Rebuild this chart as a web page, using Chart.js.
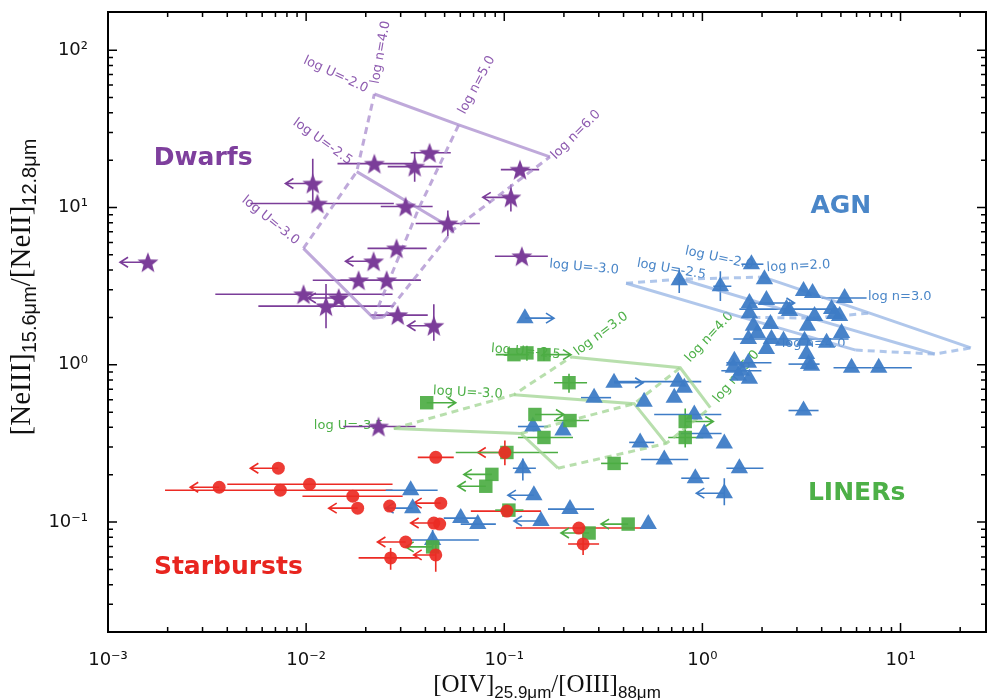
<!DOCTYPE html>
<html>
<head>
<meta charset="utf-8">
<script src="https://cdn.jsdelivr.net/npm/chart.js@4.4.1/dist/chart.umd.min.js"></script>
<style>
  html, body { margin: 0; padding: 0; background: #fff; overflow: hidden; }
  canvas { display: block; }
</style>
</head>
<body>
<canvas id="myChart" width="987" height="700"></canvas>
<script>
// rows: [x, y, xLo, xHi, yLo, yHi, arrowTip]  (arrowTip = limit arrow end on x)
const dwarfs = [
  [0.00159, 4.49, null, null, null, null, 0.00115],
  [0.0108, 14.2, null, null, 10.9, 20.4, 0.00786],
  [0.0114, 10.6, 0.00523, 0.0277, null, null, null],
  [0.0221, 19.0, 0.0144, 0.0349, null, null, null],
  [0.0353, 18.2, 0.0258, 0.0489, 14.6, 22.6, null],
  [0.0420, 22.3, 0.0337, 0.0537, null, null, null],
  [0.0318, 10.15, 0.0238, 0.0435, null, null, null],
  [0.0519, 7.92, 0.0357, 0.0753, 6.55, 9.57, null],
  [0.120, 17.4, 0.0961, 0.150, null, null, null],
  [0.108, 11.6, null, null, 9.43, 14.0, 0.0779],
  [0.1227, 4.90, 0.0897, 0.166, null, null, null],
  [0.0286, 5.50, 0.0204, 0.0406, null, null, null],
  [0.0219, 4.55, null, null, null, null, 0.0158],
  [0.0184, 3.45, 0.0108, 0.0379, null, null, null],
  [0.0255, 3.45, 0.0149, 0.0379, null, null, null],
  [0.0097, 2.81, 0.00348, 0.0273, null, null, null],
  [0.0146, 2.66, null, null, null, null, 0.0102],
  [0.0126, 2.36, 0.00574, 0.0277, 1.71, 3.26, null],
  [0.0290, 2.07, 0.0211, 0.0411, null, null, null],
  [0.0441, 1.77, null, null, 1.42, 2.43, 0.0325],
  [0.0232, 0.405, 0.0154, 0.0357, null, null, null]
];

const starbursts = [
  [0.00724, 0.220, null, null, null, null, 0.00523],
  [0.00364, 0.1665, null, null, null, null, 0.0026],
  [0.00741, 0.1594, 0.00194, 0.0273, null, null, null],
  [0.0104, 0.174, 0.0040, 0.0273, null, null, null],
  [0.0172, 0.146, 0.00958, 0.0307, null, null, null],
  [0.0182, 0.1226, null, null, null, null, 0.0130],
  [0.0264, 0.1263, null, null, null, null, null],
  [0.0478, 0.1319, null, null, null, null, 0.0349],
  [0.0451, 0.258, 0.0366, 0.0556, null, null, null],
  [0.0441, 0.0986, null, null, null, null, 0.0337],
  [0.0472, 0.0971, null, null, null, null, null],
  [0.0318, 0.0747, null, null, null, null, 0.0229],
  [0.0267, 0.0592, 0.0184, 0.0366, 0.0497, 0.0684, null],
  [0.0451, 0.0618, null, null, 0.0483, 0.0769, 0.0349],
  [0.1007, 0.277, null, null, 0.230, 0.330, 0.0735],
  [0.1031, 0.1174, 0.0678, 0.1532, null, null, null],
  [0.238, 0.0916, 0.1145, 0.491, null, null, null],
  [0.250, 0.0726, 0.210, 0.301, 0.0618, 0.0839, null]
];

const liners = [
  [0.0406, 0.574, null, null, null, null, 0.0569],
  [0.1119, 1.16, 0.0907, 0.133, null, null, null],
  [0.1301, 1.19, null, null, 1.06, 1.32, null],
  [0.1586, 1.16, null, null, 1.06, 1.28, 0.2172],
  [0.2122, 0.769, 0.1782, 0.2617, 0.665, 0.877, null],
  [0.1428, 0.483, null, null, null, null, 0.2002],
  [0.2147, 0.442, 0.1782, 0.2679, null, null, null],
  [0.1586, 0.345, 0.1172, 0.2223, null, null, null],
  [0.1031, 0.277, 0.0569, 0.1867, null, null, null],
  [0.0866, 0.201, null, null, null, null, 0.0625],
  [0.0807, 0.169, null, null, null, null, 0.0583],
  [0.3584, 0.236, 0.308, 0.422, null, null, null],
  [0.819, 0.436, null, null, 0.38, 0.527, 1.135],
  [0.819, 0.345, 0.672, 1.011, 0.298, 0.411, null],
  [0.1055, 0.1191, 0.090, 0.125, null, null, null],
  [0.0435, 0.0695, null, null, null, null, 0.0318],
  [0.268, 0.0852, null, null, null, null, 0.1933],
  [0.422, 0.0971, null, null, null, null, 0.308]
];

const agn = [
  [0.1271, 1.98, null, null, null, null, 0.1782],
  [0.0337, 0.1594, 0.0252, 0.0461, null, null, null],
  [0.0345, 0.1226, null, null, null, null, 0.0252],
  [0.0435, 0.0769, 0.0337, 0.0744, 0.0665, 0.089, null],
  [0.0603, 0.106, 0.0495, 0.0744, null, null, null],
  [0.0735, 0.0971, 0.0603, 0.0907, null, null, null],
  [0.1241, 0.220, 0.1105, 0.1444, 0.184, 0.254, null],
  [0.1411, 0.1482, null, null, null, null, 0.1043],
  [0.2147, 0.1209, 0.1662, 0.2839, null, null, null],
  [0.1532, 0.1015, null, null, null, null, 0.1119],
  [0.533, 0.0971, null, null, null, null, null],
  [0.358, 0.769, null, null, null, null, 0.5025],
  [0.284, 0.618, 0.244, 0.346, null, null, null],
  [0.508, 0.583, null, null, null, null, null],
  [0.1395, 0.405, 0.1172, 0.1662, null, null, null],
  [0.1979, 0.382, null, null, null, null, null],
  [0.755, 0.781, 0.358, 0.987, null, null, null],
  [0.810, 0.715, null, null, null, null, null],
  [0.721, 0.618, null, null, null, null, null],
  [0.910, 0.483, 0.571, 1.246, null, null, null],
  [1.022, 0.366, 0.78, 1.25, null, null, null],
  [0.485, 0.321, 0.427, 0.571, null, null, null],
  [0.642, 0.250, 0.491, 0.848, null, null, null],
  [0.921, 0.190, 0.782, 1.084, null, null, null],
  [1.29, 0.1526, null, null, 0.1281, 0.190, 0.932],
  [1.29, 0.316, null, null, null, null, null],
  [1.537, 0.220, 1.321, 2.032, null, null, null],
  [1.232, 3.16, 1.135, 1.40, 2.54, 3.94, null],
  [3.239, 0.512, 2.72, 3.857, null, null, null],
  [1.768, 4.36, 1.573, 2.032, null, null, null],
  [2.056, 3.50, null, null, null, null, null],
  [0.764, 3.45, null, null, 2.86, 4.05, null],
  [3.239, 2.94, null, null, null, null, null],
  [3.597, 2.86, null, null, null, null, null],
  [5.22, 2.66, 3.994, 6.74, null, null, null],
  [1.727, 2.47, null, null, null, null, 2.916],
  [2.104, 2.58, null, null, null, null, null],
  [1.727, 2.13, null, null, null, null, null],
  [2.657, 2.26, 1.537, 4.868, null, null, null],
  [2.752, 2.20, null, null, null, null, null],
  [3.682, 2.04, null, null, null, null, null],
  [4.487, 2.26, null, null, null, null, null],
  [4.647, 2.10, null, null, null, null, null],
  [4.925, 2.04, null, null, null, null, null],
  [1.809, 1.77, null, null, null, null, null],
  [2.205, 1.82, null, null, null, null, null],
  [3.394, 1.77, null, null, null, null, null],
  [1.895, 1.59, null, null, null, null, null],
  [5.04, 1.59, null, null, null, null, null],
  [1.707, 1.46, null, null, null, null, null],
  [2.231, 1.46, 1.433, 5.47, null, null, null],
  [2.566, 1.42, null, null, null, null, null],
  [3.277, 1.42, null, null, null, null, null],
  [4.234, 1.38, null, null, null, null, null],
  [2.104, 1.26, null, null, null, null, null],
  [3.354, 1.17, null, null, null, null, null],
  [3.433, 1.01, 2.72, 3.903, null, null, null],
  [3.555, 0.985, null, null, null, null, null],
  [5.66, 0.957, 4.59, 7.15, null, null, null],
  [7.76, 0.957, 7.15, 11.4, null, null, null],
  [1.45, 1.06, null, null, null, null, null],
  [1.707, 1.03, 1.321, 2.231, null, null, null],
  [1.433, 0.957, null, null, null, null, null],
  [1.573, 0.916, 1.246, 1.986, null, null, null],
  [1.727, 0.815, null, null, null, null, null],
  [1.519, 0.852, null, null, null, null, null]
];

// photoionisation model grids: rows = constant log U (solid), columns = constant log n (dashed)
const dwarfGrid = [
  [[0.00969, 5.50], [0.0219, 1.98], [0.0246, 2.01]],   // log U = -3.0 ; n = 4, 5, 6
  [[0.0180, 16.9], [0.0370, 9.86], [0.0556, 7.26]],    // log U = -2.5
  [[0.0221, 52.7], [0.0589, 33.5], [0.170, 21.0]]      // log U = -2.0
];
const agnGrid = [
  [[0.412, 3.30], [1.573, 2.01], [5.94, 1.24]],        // log U = -3.0 ; n = 2, 3, 4
  [[0.782, 3.50], [3.555, 1.98], [14.89, 1.17]],       // log U = -2.5
  [[2.032, 3.61], [6.99, 2.13], [22.65, 1.28]]         // log U = -2.0
];
const linerGrid = [
  [[0.0277, 0.393], [0.1213, 0.366], [0.1867, 0.220]], // log U = -3.5 ; n = 3, 4, 5
  [[0.1119, 0.646], [0.4525, 0.566], [0.657, 0.316]],  // log U = -3.0
  [[0.2172, 1.12], [0.773, 0.957], [1.096, 0.534]]     // log U = -2.5
];

// [text, x, y, angle in degrees]
const dwarfModelLabels = [
  ['log U=-2.0', 0.0141, 70, 25], ['log U=-2.5', 0.0121, 26.2, 36], ['log U=-3.0', 0.0066, 8.27, 39],
  ['log n=4.0', 0.0238, 97, -80], ['log n=5.0', 0.0727, 60, -62], ['log n=6.0', 0.230, 29, -45]
];
const agnModelLabels = [
  ['log U=-3.0', 0.2527, 4.17, 5], ['log U=-2.5', 0.697, 4.05, 10], ['log U=-2.0', 1.217, 4.76, 12],
  ['log n=2.0', 3.055, 4.23, -3], ['log n=3.0', 9.91, 2.73, 0], ['log n=4.0', 3.64, 1.36, 0]
];
const linerModelLabels = [
  ['log U=-3.5', 0.0164, 0.411, 0], ['log U=-3.0', 0.0655, 0.665, 3], ['log U=-2.5', 0.1285, 1.21, 5],
  ['log n=3.0', 0.308, 1.57, -37], ['log n=4.0', 1.084, 1.50, -47], ['log n=5.0', 1.484, 0.839, -50]
];

const classLabels = [
  ['Dwarfs', 0.00302, 20.4], ['AGN', 5.0, 10.1], ['LINERs', 6.0, 0.153], ['Starbursts', 0.00405, 0.0511]
];

const xTicks = [1e-3, 1e-2, 1e-1, 1, 10];
const yTicks = [1e-1, 1, 10, 100];

const purple = '#7B3D99', blue = '#3E7CC6', green = '#4CAD43', red = '#EC2B24';
const classColors = ['#7E3F9D', '#4A86C8', '#4DB047', '#E8251F'];

function starImage(color, r) {
  const c = document.createElement('canvas');
  const s = Math.ceil(r * 2 + 2);
  c.width = c.height = s;
  const g = c.getContext('2d');
  g.fillStyle = color;
  g.beginPath();
  for (let i = 0; i < 10; i++) {
    const rr = i % 2 ? r * 0.42 : r;
    const a = -Math.PI / 2 + i * Math.PI / 5;
    g.lineTo(s / 2 + rr * Math.cos(a), s / 2 + 1 + rr * Math.sin(a));
  }
  g.closePath();
  g.fill();
  return c;
}

const groups = [
  { rows: dwarfs, color: purple },
  { rows: starbursts, color: red },
  { rows: liners, color: green },
  { rows: agn, color: blue }
];

function gridSets(grid, color) {
  const sets = [];
  grid.forEach(row => sets.push({
    data: row.map(p => ({ x: p[0], y: p[1] })), showLine: true, borderColor: color,
    borderWidth: 3, pointRadius: 0, order: 10
  }));
  for (let j = 0; j < grid[0].length; j++) {
    sets.push({
      data: grid.map(row => ({ x: row[j][0], y: row[j][1] })), showLine: true, borderColor: color,
      borderWidth: 3, borderDash: [7, 5], pointRadius: 0, order: 10
    });
  }
  return sets;
}

const sup = { '0': '⁰', '1': '¹', '2': '²', '3': '³', '-': '⁻' };
function powLabel(v) {
  const e = Math.round(Math.log10(v));
  return '10' + String(e).split('').map(c => sup[c]).join('');
}

function drawParts(ctx, parts, cx, cy, big, small) {
  let w = 0;
  parts.forEach(p => { ctx.font = p[1] ? small : big; w += ctx.measureText(p[0]).width; });
  let x = cx - w / 2;
  ctx.textAlign = 'left';
  ctx.textBaseline = 'alphabetic';
  parts.forEach(p => {
    ctx.font = p[1] ? small : big;
    ctx.fillText(p[0], x, cy + (p[1] ? 6 : 0));
    x += ctx.measureText(p[0]).width;
  });
}

const extras = {
  id: 'extras',
  afterLayout(chart) {
    // stretch the plot area to the right edge of the canvas (1px margin)
    const a = chart.chartArea, xs = chart.scales.x;
    const right = chart.width - 1;
    a.right = right;
    a.width = right - a.left;
    xs.right = right;
    xs.width = right - xs.left;
    xs.configure();
  },
  beforeDatasetsDraw(chart) {
    const { ctx, chartArea: a, scales: { x, y } } = chart;
    ctx.save();
    ctx.beginPath();
    ctx.rect(a.left, a.top, a.right - a.left, a.bottom - a.top);
    ctx.clip();
    // model labels
    ctx.font = '13px "DejaVu Sans"';
    ctx.textAlign = 'center';
    ctx.textBaseline = 'middle';
    [[dwarfModelLabels, '#8E5BB0'], [agnModelLabels, '#4A86C8'], [linerModelLabels, '#4DB047']].forEach(([labs, col]) => {
      ctx.fillStyle = col;
      labs.forEach(l => {
        ctx.save();
        ctx.translate(x.getPixelForValue(l[1]), y.getPixelForValue(l[2]));
        ctx.rotate(l[3] * Math.PI / 180);
        ctx.fillText(l[0], 0, 0);
        ctx.restore();
      });
    });
    // error bars and limit arrows
    ctx.lineWidth = 1.6;
    groups.forEach(g => {
      ctx.strokeStyle = g.color;
      g.rows.forEach(r => {
        const px = x.getPixelForValue(r[0]), py = y.getPixelForValue(r[1]);
        ctx.beginPath();
        if (r[2] !== null) {
          ctx.moveTo(x.getPixelForValue(r[2]), py);
          ctx.lineTo(x.getPixelForValue(r[3]), py);
        }
        if (r[4] !== null) {
          ctx.moveTo(px, y.getPixelForValue(r[4]));
          ctx.lineTo(px, y.getPixelForValue(r[5]));
        }
        if (r[6] !== null) {
          const tx = x.getPixelForValue(r[6]);
          const d = tx < px ? -1 : 1;
          ctx.moveTo(px, py);
          ctx.lineTo(tx, py);
          ctx.moveTo(tx - d * 8, py - 5);
          ctx.lineTo(tx, py);
          ctx.lineTo(tx - d * 8, py + 5);
        }
        ctx.stroke();
      });
    });
    ctx.restore();
  },
  afterDraw(chart) {
    const { ctx, chartArea: a, scales: { x, y } } = chart;
    ctx.save();
    // class names
    ctx.font = 'bold 25px "DejaVu Sans"';
    ctx.textAlign = 'center';
    ctx.textBaseline = 'middle';
    classLabels.forEach((l, i) => {
      ctx.fillStyle = classColors[i];
      ctx.fillText(l[0], x.getPixelForValue(l[1]), y.getPixelForValue(l[2]));
    });
    // frame and inward ticks
    ctx.strokeStyle = '#000';
    ctx.lineWidth = 2;
    ctx.strokeRect(a.left, a.top, a.right - a.left, a.bottom - a.top);
    ctx.lineWidth = 1.5;
    ctx.beginPath();
    for (let e = -3; e <= 2; e++) {
      for (let m = 1; m <= 9; m++) {
        const v = m * Math.pow(10, e);
        const len = m === 1 ? 9 : 5;
        if (v >= x.min && v <= x.max) {
          const p = x.getPixelForValue(v);
          ctx.moveTo(p, a.bottom); ctx.lineTo(p, a.bottom - len);
          ctx.moveTo(p, a.top); ctx.lineTo(p, a.top + len);
        }
        if (v >= y.min && v <= y.max) {
          const p = y.getPixelForValue(v);
          ctx.moveTo(a.left, p); ctx.lineTo(a.left + len, p);
          ctx.moveTo(a.right, p); ctx.lineTo(a.right - len, p);
        }
      }
    }
    ctx.stroke();
    // axis titles
    ctx.fillStyle = '#111';
    drawParts(ctx, [['[OIV]', 0], ['25.9μm', 1], ['/[OIII]', 0], ['88μm', 1]], (a.left + a.right) / 2, 692,
      '25px "Liberation Serif"', '17px "Liberation Sans"');
    ctx.translate(30, 287);
    ctx.rotate(-Math.PI / 2);
    drawParts(ctx, [['[NeIII]', 0], ['15.6μm', 1], ['/[NeII]', 0], ['12.8μm', 1]], 0, 0,
      '29px "Liberation Serif"', '20px "Liberation Sans"');
    ctx.restore();
  }
};

const datasets = [
  { data: dwarfs.map(r => ({ x: r[0], y: r[1] })), pointStyle: starImage(purple, 11), pointRadius: 11, order: 1 },
  { data: starbursts.map(r => ({ x: r[0], y: r[1] })), pointStyle: 'circle', pointRadius: 6.5,
    backgroundColor: 'rgba(236,43,36,0.92)', borderWidth: 0, order: 1 },
  { data: liners.map(r => ({ x: r[0], y: r[1] })), pointStyle: 'rect', pointRadius: 9.5,
    backgroundColor: 'rgba(76,173,67,0.92)', borderWidth: 0, order: 1 },
  { data: agn.map(r => ({ x: r[0], y: r[1] })), pointStyle: 'triangle', pointRadius: 10,
    backgroundColor: 'rgba(62,124,198,0.95)', borderWidth: 0, order: 1 },
  ...gridSets(dwarfGrid, 'rgba(170,140,205,0.75)'),
  ...gridSets(agnGrid, 'rgba(150,180,228,0.75)'),
  ...gridSets(linerGrid, 'rgba(160,212,145,0.75)')
];

new Chart(document.getElementById('myChart'), {
  type: 'scatter',
  data: { datasets },
  options: {
    responsive: false,
    devicePixelRatio: 1,
    animation: false,
    events: [],
    layout: { padding: { top: 10, right: 1, left: 0, bottom: 0 } },
    plugins: { legend: { display: false }, tooltip: { enabled: false } },
    scales: {
      x: {
        type: 'logarithmic', min: 1e-3, max: 27,
        grid: { display: false }, border: { display: false },
        afterBuildTicks: s => { s.ticks = xTicks.map(v => ({ value: v })); },
        afterFit: s => { s.height = 68; s.paddingLeft = 0; s.paddingRight = 0; },
        ticks: { autoSkip: false, maxRotation: 0, padding: 10, color: '#111',
          font: { family: 'DejaVu Sans', size: 18 }, callback: v => powLabel(v) }
      },
      y: {
        type: 'logarithmic', min: 0.02, max: 175,
        grid: { display: false }, border: { display: false },
        afterBuildTicks: s => { s.ticks = yTicks.map(v => ({ value: v })); },
        afterFit: s => { s.width = 108; s.paddingTop = 0; s.paddingBottom = 0; },
        ticks: { autoSkip: false, padding: 12, color: '#111',
          font: { family: 'DejaVu Sans', size: 18 }, callback: v => powLabel(v) }
      }
    }
  },
  plugins: [extras]
});
</script>
</body>
</html>
